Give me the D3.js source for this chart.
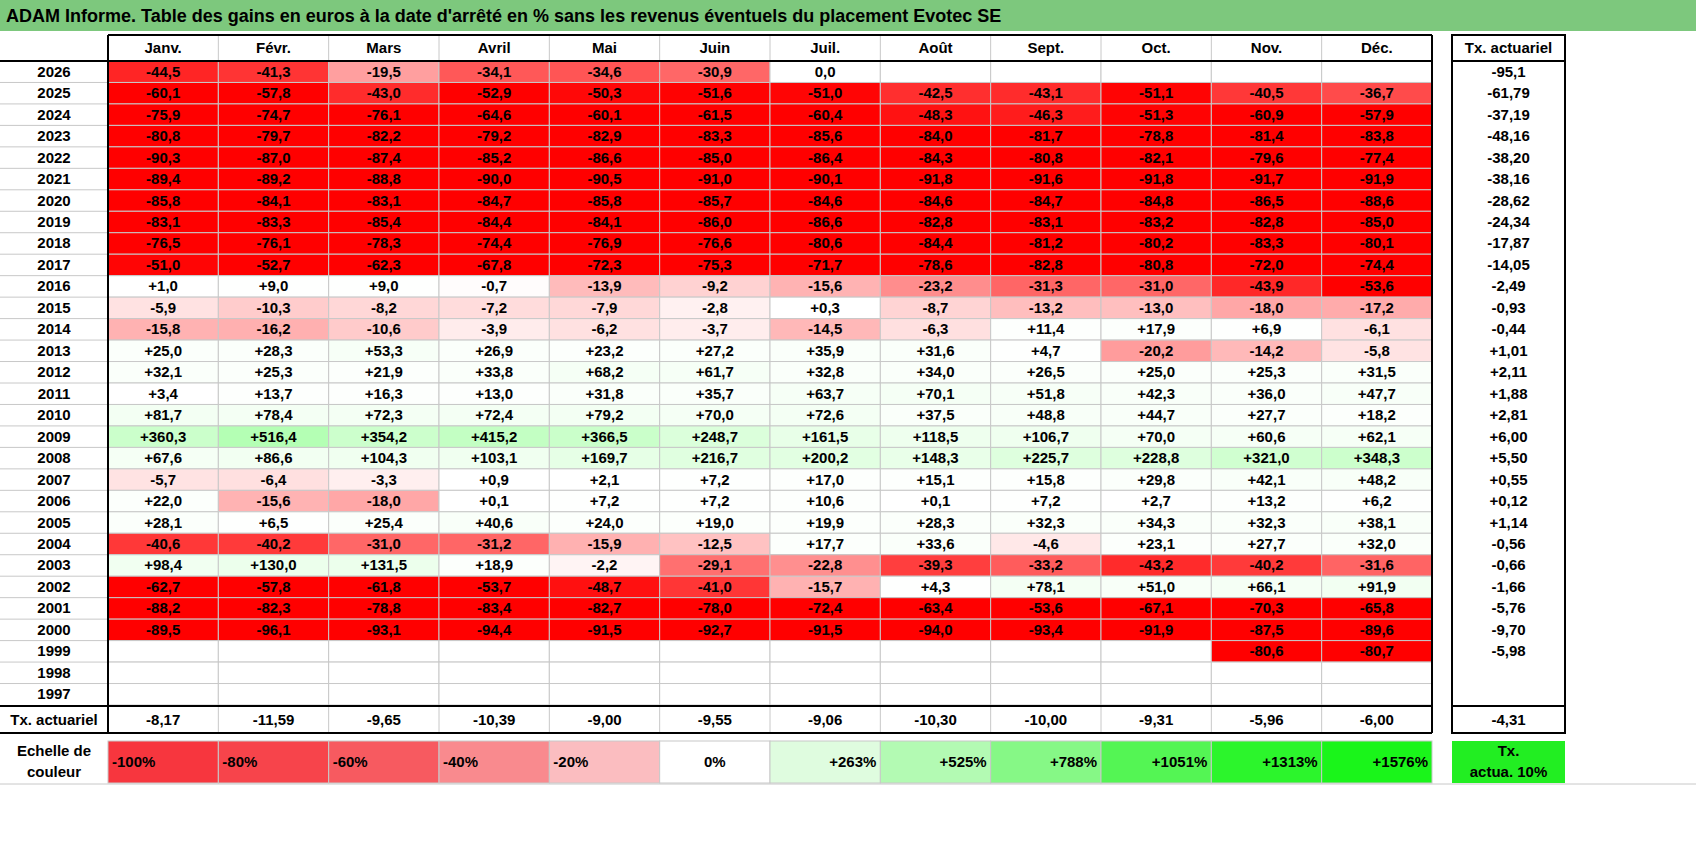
<!DOCTYPE html>
<html>
<head>
<meta charset="UTF-8">
<script src="https://d3js.org/d3.v7.min.js"></script>
<style>
  body { margin: 0; background: #fff; font-family: "Liberation Sans", Arial, sans-serif; }
  text { font-weight: bold; font-size: 15px; }
</style>
</head>
<body>
<div id="chart"></div>
<script>
const title = "ADAM Informe. Table des gains en euros à la date d'arrêté en % sans les revenus éventuels du placement Evotec SE";
const months = ["Janv.", "Févr.", "Mars", "Avril", "Mai", "Juin", "Juil.", "Août", "Sept.", "Oct.", "Nov.", "Déc."];
const years = ["2026","2025","2024","2023","2022","2021","2020","2019","2018","2017","2016","2015","2014","2013","2012","2011","2010","2009","2008","2007","2006","2005","2004","2003","2002","2001","2000","1999","1998","1997"];
const gains = [
  ["-44,5","-41,3","-19,5","-34,1","-34,6","-30,9","0,0","","","","",""],
  ["-60,1","-57,8","-43,0","-52,9","-50,3","-51,6","-51,0","-42,5","-43,1","-51,1","-40,5","-36,7"],
  ["-75,9","-74,7","-76,1","-64,6","-60,1","-61,5","-60,4","-48,3","-46,3","-51,3","-60,9","-57,9"],
  ["-80,8","-79,7","-82,2","-79,2","-82,9","-83,3","-85,6","-84,0","-81,7","-78,8","-81,4","-83,8"],
  ["-90,3","-87,0","-87,4","-85,2","-86,6","-85,0","-86,4","-84,3","-80,8","-82,1","-79,6","-77,4"],
  ["-89,4","-89,2","-88,8","-90,0","-90,5","-91,0","-90,1","-91,8","-91,6","-91,8","-91,7","-91,9"],
  ["-85,8","-84,1","-83,1","-84,7","-85,8","-85,7","-84,6","-84,6","-84,7","-84,8","-86,5","-88,6"],
  ["-83,1","-83,3","-85,4","-84,4","-84,1","-86,0","-86,6","-82,8","-83,1","-83,2","-82,8","-85,0"],
  ["-76,5","-76,1","-78,3","-74,4","-76,9","-76,6","-80,6","-84,4","-81,2","-80,2","-83,3","-80,1"],
  ["-51,0","-52,7","-62,3","-67,8","-72,3","-75,3","-71,7","-78,6","-82,8","-80,8","-72,0","-74,4"],
  ["+1,0","+9,0","+9,0","-0,7","-13,9","-9,2","-15,6","-23,2","-31,3","-31,0","-43,9","-53,6"],
  ["-5,9","-10,3","-8,2","-7,2","-7,9","-2,8","+0,3","-8,7","-13,2","-13,0","-18,0","-17,2"],
  ["-15,8","-16,2","-10,6","-3,9","-6,2","-3,7","-14,5","-6,3","+11,4","+17,9","+6,9","-6,1"],
  ["+25,0","+28,3","+53,3","+26,9","+23,2","+27,2","+35,9","+31,6","+4,7","-20,2","-14,2","-5,8"],
  ["+32,1","+25,3","+21,9","+33,8","+68,2","+61,7","+32,8","+34,0","+26,5","+25,0","+25,3","+31,5"],
  ["+3,4","+13,7","+16,3","+13,0","+31,8","+35,7","+63,7","+70,1","+51,8","+42,3","+36,0","+47,7"],
  ["+81,7","+78,4","+72,3","+72,4","+79,2","+70,0","+72,6","+37,5","+48,8","+44,7","+27,7","+18,2"],
  ["+360,3","+516,4","+354,2","+415,2","+366,5","+248,7","+161,5","+118,5","+106,7","+70,0","+60,6","+62,1"],
  ["+67,6","+86,6","+104,3","+103,1","+169,7","+216,7","+200,2","+148,3","+225,7","+228,8","+321,0","+348,3"],
  ["-5,7","-6,4","-3,3","+0,9","+2,1","+7,2","+17,0","+15,1","+15,8","+29,8","+42,1","+48,2"],
  ["+22,0","-15,6","-18,0","+0,1","+7,2","+7,2","+10,6","+0,1","+7,2","+2,7","+13,2","+6,2"],
  ["+28,1","+6,5","+25,4","+40,6","+24,0","+19,0","+19,9","+28,3","+32,3","+34,3","+32,3","+38,1"],
  ["-40,6","-40,2","-31,0","-31,2","-15,9","-12,5","+17,7","+33,6","-4,6","+23,1","+27,7","+32,0"],
  ["+98,4","+130,0","+131,5","+18,9","-2,2","-29,1","-22,8","-39,3","-33,2","-43,2","-40,2","-31,6"],
  ["-62,7","-57,8","-61,8","-53,7","-48,7","-41,0","-15,7","+4,3","+78,1","+51,0","+66,1","+91,9"],
  ["-88,2","-82,3","-78,8","-83,4","-82,7","-78,0","-72,4","-63,4","-53,6","-67,1","-70,3","-65,8"],
  ["-89,5","-96,1","-93,1","-94,4","-91,5","-92,7","-91,5","-94,0","-93,4","-91,9","-87,5","-89,6"],
  ["","","","","","","","","","","-80,6","-80,7"],
  ["","","","","","","","","","","",""],
  ["","","","","","","","","","","",""]
];
const yearRate = ["-95,1","-61,79","-37,19","-48,16","-38,20","-38,16","-28,62","-24,34","-17,87","-14,05","-2,49","-0,93","-0,44","+1,01","+2,11","+1,88","+2,81","+6,00","+5,50","+0,55","+0,12","+1,14","-0,56","-0,66","-1,66","-5,76","-9,70","-5,98","",""];
const monthRate = ["-8,17","-11,59","-9,65","-10,39","-9,00","-9,55","-9,06","-10,30","-10,00","-9,31","-5,96","-6,00"];
const totalRate = "-4,31";
const legendLabels = ["-100%","-80%","-60%","-40%","-20%","0%","+263%","+525%","+788%","+1051%","+1313%","+1576%"];
const legendColors = ["#f7363e","#f7444b","#f75a60","#f98a8e","#fbbdc0","#ffffff","#dffcdf","#b3fab3","#86f886","#54f554","#2cf52c","#1af51a"];

const W = 1696, H = 848;
const svg = d3.select("#chart").append("svg").attr("width", W).attr("height", H);

const x = d3.scaleBand().domain(months).range([108, 1432]);
const y = d3.scaleBand().domain(years).range([61, 705]);
const txX = 1452, txW = 1565 - 1452;
const headTop = 35, rateTop = 706, rateBot = 733, legTop = 741, legBot = 783;

const num = s => s === "" ? null : +s.replace(",", ".");
const red = d3.interpolateRgb("#ffffff", "#ff0000");
const green = d3.interpolateRgb("#ffffff", "#1aff1a");
function cellColor(s) {
  const v = num(s);
  if (v === null || v === 0) return "#ffffff";
  if (v < 0) return red(Math.min(1, -v / 52));
  return green(Math.min(1, v / 1576));
}

// title bar
svg.append("rect").attr("x", 0).attr("y", 0).attr("width", W).attr("height", 31).attr("fill", "#7dc87d");
svg.append("text").attr("x", 6).attr("y", 22).style("font-size", "18px").text(title);

// cells
const cells = [];
gains.forEach((row, i) => row.forEach((v, j) => cells.push({ year: years[i], month: months[j], v })));
svg.append("g").selectAll("rect").data(cells).join("rect")
  .attr("x", d => x(d.month)).attr("y", d => y(d.year))
  .attr("width", x.bandwidth()).attr("height", y.bandwidth())
  .attr("fill", d => cellColor(d.v)).attr("stroke", "#c8c8c8").attr("stroke-width", 1);
svg.append("g").selectAll("text").data(cells.filter(d => d.v !== "")).join("text")
  .attr("x", d => x(d.month) + x.bandwidth() / 2).attr("y", d => y(d.year) + y.bandwidth() / 2 + 5)
  .attr("text-anchor", "middle").text(d => d.v);

// grid for label column and tx column
svg.append("g").selectAll("line").data(years.slice(1)).join("line")
  .attr("x1", 0).attr("x2", 108).attr("y1", d => y(d)).attr("y2", d => y(d)).attr("stroke", "#c8c8c8");
svg.append("g").selectAll("line").data(months.slice(1)).join("line")
  .attr("x1", d => x(d)).attr("x2", d => x(d)).attr("y1", headTop).attr("y2", 61).attr("stroke", "#c8c8c8");

// year labels and year rates
svg.append("g").selectAll("text").data(years).join("text")
  .attr("x", 54).attr("y", d => y(d) + y.bandwidth() / 2 + 5).attr("text-anchor", "middle").text(d => d);
svg.append("g").selectAll("text").data(yearRate).join("text")
  .attr("x", txX + txW / 2).attr("y", (d, i) => y(years[i]) + y.bandwidth() / 2 + 5)
  .attr("text-anchor", "middle").text(d => d);

// month headers
svg.append("g").selectAll("text").data(months).join("text")
  .attr("x", d => x(d) + x.bandwidth() / 2).attr("y", 53).attr("text-anchor", "middle").text(d => d);
svg.append("text").attr("x", txX + txW / 2).attr("y", 53).attr("text-anchor", "middle").text("Tx. actuariel");

// month rates row
svg.append("text").attr("x", 54).attr("y", rateTop + 19).attr("text-anchor", "middle").text("Tx. actuariel");
svg.append("g").selectAll("text").data(monthRate).join("text")
  .attr("x", (d, i) => x(months[i]) + x.bandwidth() / 2).attr("y", rateTop + 19)
  .attr("text-anchor", "middle").text(d => d);
svg.append("g").selectAll("line").data(months.slice(1)).join("line")
  .attr("x1", d => x(d)).attr("x2", d => x(d)).attr("y1", rateTop).attr("y2", rateBot).attr("stroke", "#c8c8c8");
svg.append("text").attr("x", txX + txW / 2).attr("y", rateTop + 19).attr("text-anchor", "middle").text(totalRate);

// black frames
const blk = (x1, y1, x2, y2, w) => svg.append("line").attr("x1", x1).attr("y1", y1).attr("x2", x2).attr("y2", y2)
  .attr("stroke", "#000").attr("stroke-width", w || 2);
blk(108, headTop, 1432, headTop);
blk(108, headTop, 108, rateBot);
blk(1432, headTop, 1432, rateBot);
blk(0, 61, 1432, 61);
blk(0, rateTop, 1432, rateTop);
blk(0, rateBot, 1432, rateBot);
svg.append("rect").attr("x", txX).attr("y", headTop).attr("width", txW).attr("height", rateBot - headTop)
  .attr("fill", "none").attr("stroke", "#000").attr("stroke-width", 2);
blk(txX, 61, txX + txW, 61);
blk(txX, rateTop, txX + txW, rateTop);

// legend
svg.append("text").attr("x", 54).attr("y", legTop + 15).attr("text-anchor", "middle").text("Echelle de");
svg.append("text").attr("x", 54).attr("y", legTop + 36).attr("text-anchor", "middle").text("couleur");
svg.append("g").selectAll("rect").data(legendLabels).join("rect")
  .attr("x", (d, i) => x(months[i])).attr("y", legTop).attr("width", x.bandwidth()).attr("height", legBot - legTop)
  .attr("fill", (d, i) => legendColors[i]).attr("stroke", "#c8c8c8");
svg.append("g").selectAll("text").data(legendLabels).join("text")
  .attr("x", (d, i) => i < 5 ? x(months[i]) + 4 : i === 5 ? x(months[i]) + x.bandwidth() / 2 : x(months[i]) + x.bandwidth() - 4)
  .attr("y", legTop + 26)
  .attr("text-anchor", (d, i) => i < 5 ? "start" : i === 5 ? "middle" : "end")
  .text(d => d);
svg.append("rect").attr("x", txX).attr("y", legTop).attr("width", txW).attr("height", legBot - legTop).attr("fill", "#22ee22");
svg.append("text").attr("x", txX + txW / 2).attr("y", legTop + 15).attr("text-anchor", "middle").text("Tx.");
svg.append("text").attr("x", txX + txW / 2).attr("y", legTop + 36).attr("text-anchor", "middle").text("actua. 10%");
svg.append("line").attr("x1", 0).attr("x2", W).attr("y1", legBot + 1).attr("y2", legBot + 1).attr("stroke", "#c8c8c8");
</script>
</body>
</html>
